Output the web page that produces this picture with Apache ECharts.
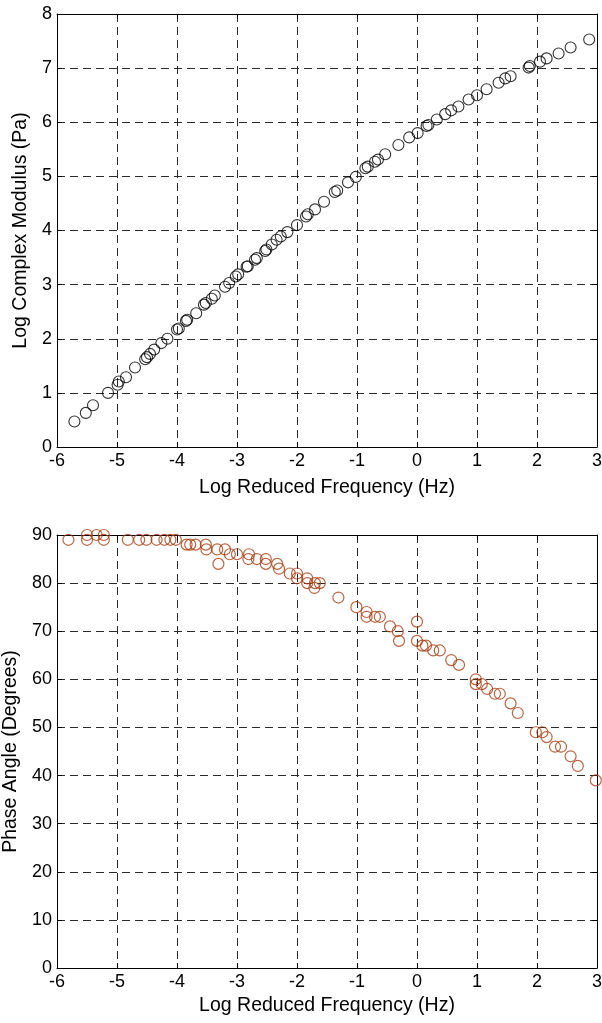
<!DOCTYPE html>
<html>
<head>
<meta charset="utf-8">
<script src="https://cdn.jsdelivr.net/npm/echarts@6/dist/echarts.min.js"></script>
<style>
html, body { margin: 0; padding: 0; background: #fff; }
#main { width: 602px; height: 1023px; }
</style>
</head>
<body>
<div id="main"></div>
<script>
// log reduced frequency (Hz) / log complex modulus (Pa)
var modFreq = [-5.71,-5.52,-5.40,-5.15,-4.99,-4.97,-4.85,-4.70,-4.53,-4.50,-4.45,-4.38,-4.26,-4.16,-4.00,-3.97,
    -3.85,-3.83,-3.68,-3.55,-3.52,-3.42,-3.37,-3.20,-3.13,-3.02,-2.98,-2.84,-2.82,-2.70,-2.67,-2.53,-2.51,
    -2.42,-2.34,-2.27,-2.16,-2.00,-1.85,-1.82,-1.70,-1.55,-1.37,-1.33,-1.15,-1.02,-0.86,-0.82,-0.70,-0.65,
    -0.53,-0.31,-0.13,0.01,0.16,0.19,0.33,0.47,0.57,0.69,0.86,1.00,1.16,1.36,1.47,1.56,1.86,1.88,2.05,
    2.16,2.36,2.56,2.87];
var modVal = [0.47,0.63,0.77,1.00,1.15,1.21,1.29,1.47,1.62,1.66,1.72,1.80,1.92,2.00,2.17,2.19,
    2.33,2.35,2.47,2.63,2.66,2.74,2.80,2.96,3.03,3.15,3.19,3.33,3.34,3.46,3.49,3.62,3.65,
    3.74,3.83,3.89,3.97,4.10,4.26,4.30,4.39,4.53,4.71,4.74,4.89,4.99,5.15,5.18,5.27,5.31,
    5.41,5.58,5.72,5.80,5.93,5.95,6.05,6.15,6.22,6.29,6.42,6.50,6.61,6.73,6.81,6.85,7.01,7.04,7.12,
    7.18,7.27,7.38,7.53];
// log reduced frequency (Hz) / phase angle (degrees)
var phaseFreq = [-5.81,-5.50,-5.50,-5.34,-5.22,-5.22,-4.82,-4.63,-4.51,-4.34,-4.21,-4.11,-4.02,-3.84,-3.78,
    -3.69,-3.52,-3.51,-3.33,-3.31,-3.20,-3.12,-3.00,-2.80,-2.81,-2.67,-2.52,-2.52,-2.33,-2.30,-2.12,-2.00,
    -2.00,-1.83,-1.83,-1.70,-1.71,-1.62,-1.31,-1.01,-0.84,-0.84,-0.70,-0.62,-0.45,-0.32,-0.30,0.00,0.00,
    0.09,0.15,0.27,0.38,0.57,0.70,0.98,0.98,1.08,1.17,1.30,1.38,1.56,1.68,1.98,2.09,2.16,2.30,2.40,2.56,
    2.68,2.98];
var phaseVal = [89,90,89,90,90,89,89,89,89,89,89,89,89,88,88,
    88,88,87,87,84,87,86,86,86,85,85,85,84,84,83,82,82,
    81,81,80,80,79,80,77,75,74,73,73,73,71,70,68,72,68,
    67,67,66,66,64,63,60,59,59,58,57,57,55,53,49,49,48,46,46,44,
    42,39];
var freqTicks = [-6, 3, 1];
var modTicks = [0, 8, 1];
var phaseTicks = [0, 90, 10];

function pairs(xs, ys) {
    var out = [];
    for (var i = 0; i < xs.length; i++) {
        out.push([xs[i], ys[i]]);
    }
    return out;
}

var font = 'Liberation Sans, Arial, Helvetica, sans-serif';
var gridLine = { show: true, lineStyle: { color: '#2a2a2a', type: [8, 5], width: 1 } };
var nameStyle = { color: '#000', fontSize: 19.5, fontFamily: font };
var tickLabel = { show: true, margin: 5, color: '#000', fontSize: 18, fontFamily: font };
var frameLine = { show: true, onZero: false, lineStyle: { color: '#000', width: 1 } };
var tickIn = { show: true, inside: true, length: 5, lineStyle: { color: '#000' } };

function mainX(idx, gap) {
    return {
        type: 'value', gridIndex: idx, position: 'bottom',
        min: freqTicks[0], max: freqTicks[1], interval: freqTicks[2],
        name: 'Log Reduced Frequency (Hz)', nameLocation: 'middle', nameGap: gap,
        nameTextStyle: nameStyle,
        axisLine: frameLine,
        axisTick: tickIn,
        axisLabel: tickLabel,
        splitLine: gridLine
    };
}
function sideX(idx) {
    return {
        type: 'value', gridIndex: idx, position: 'top',
        min: freqTicks[0], max: freqTicks[1], interval: freqTicks[2],
        axisLine: frameLine,
        axisTick: tickIn,
        axisLabel: { show: false },
        splitLine: { show: false }
    };
}
function mainY(idx, t, name, gap) {
    return {
        type: 'value', gridIndex: idx, position: 'left',
        min: t[0], max: t[1], interval: t[2],
        name: name, nameLocation: 'middle', nameGap: gap,
        nameTextStyle: nameStyle,
        axisLine: frameLine,
        axisTick: tickIn,
        axisLabel: tickLabel,
        splitLine: gridLine
    };
}
function sideY(idx, t) {
    return {
        type: 'value', gridIndex: idx, position: 'right',
        min: t[0], max: t[1], interval: t[2],
        axisLine: frameLine,
        axisTick: tickIn,
        axisLabel: { show: false },
        splitLine: { show: false }
    };
}

var chart = echarts.init(document.getElementById('main'), null, { renderer: 'canvas' });
var option = {
    backgroundColor: '#fff',
    animation: false,
    grid: [
        { left: 57, right: 5, top: 14, bottom: 576, outerBoundsMode: 'none', containLabel: false },
        { left: 57, right: 5, top: 535, bottom: 55, outerBoundsMode: 'none', containLabel: false }
    ],
    xAxis: [mainX(0, 31), sideX(0), mainX(1, 28), sideX(1)],
    yAxis: [
        mainY(0, modTicks, 'Log Complex Modulus (Pa)', 23),
        sideY(0, modTicks),
        mainY(1, phaseTicks, 'Phase Angle (Degrees)', 36),
        sideY(1, phaseTicks)
    ],
    series: [
        {
            name: 'modulus', type: 'scatter', xAxisIndex: 0, yAxisIndex: 0,
            symbol: 'circle', symbolSize: 11,
            itemStyle: { color: 'rgba(0,0,0,0)', borderColor: '#000', borderWidth: 1.1 },
            data: pairs(modFreq, modVal)
        },
        {
            name: 'phase', type: 'scatter', xAxisIndex: 2, yAxisIndex: 2,
            symbol: 'circle', symbolSize: 11,
            itemStyle: { color: 'rgba(0,0,0,0)', borderColor: '#a83f14', borderWidth: 1.2 },
            data: pairs(phaseFreq, phaseVal)
        }
    ]
};
chart.setOption(option);
</script>
</body>
</html>
